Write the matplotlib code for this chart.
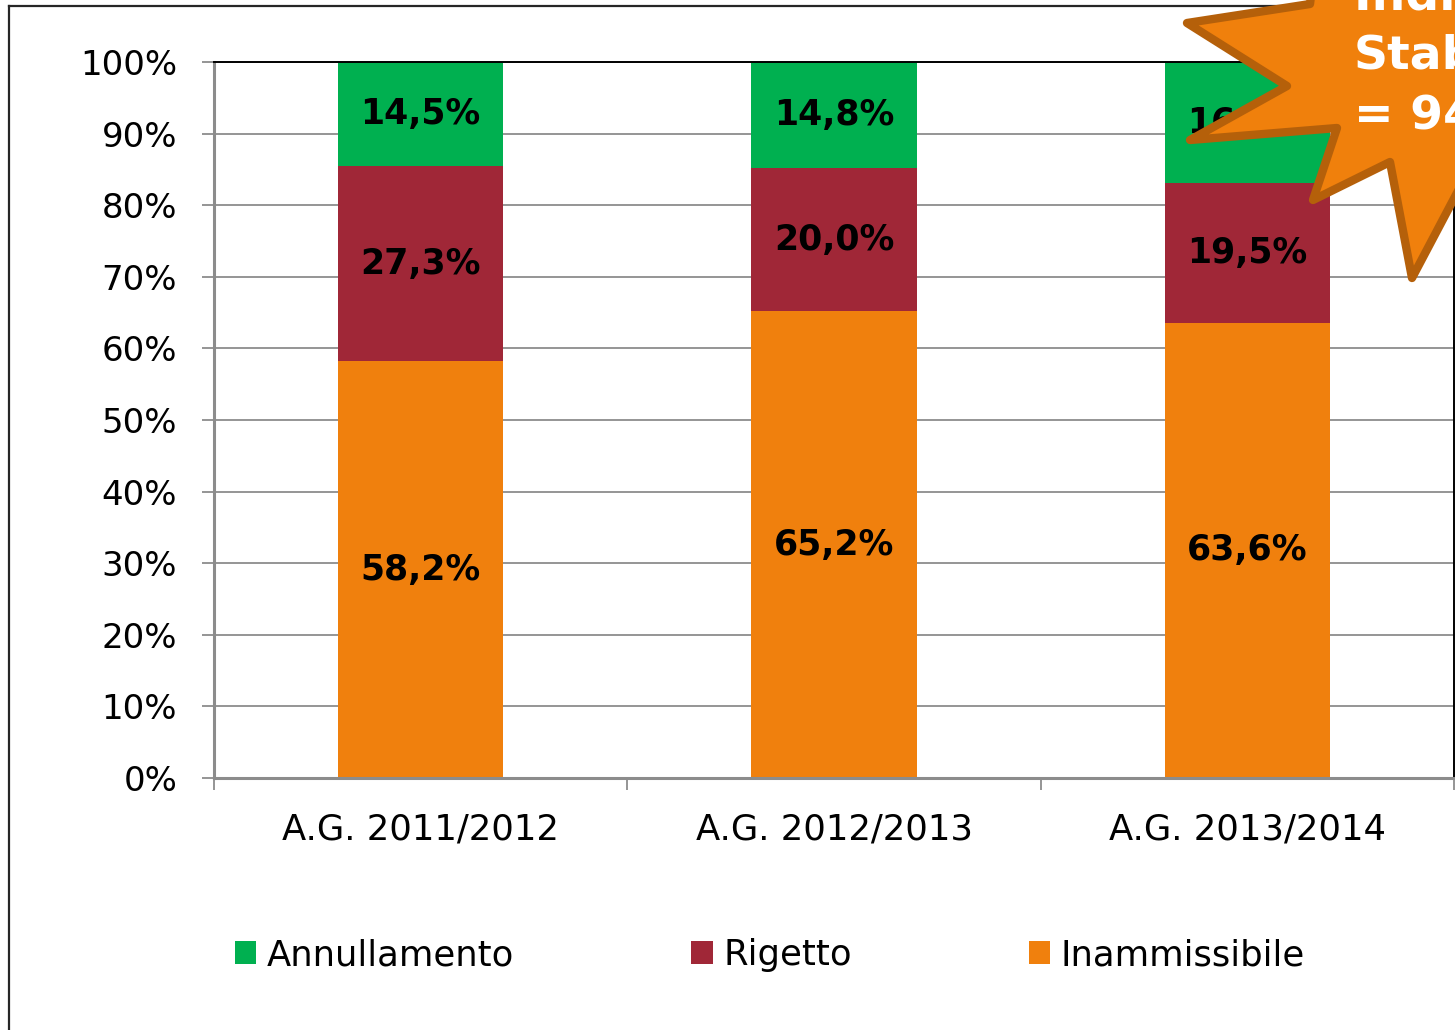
import matplotlib
matplotlib.use("Agg")
from matplotlib import pyplot as plt
from matplotlib.patches import Polygon
from matplotlib.lines import Line2D
import numpy as np

categories = ["A.G. 2011/2012", "A.G. 2012/2013", "A.G. 2013/2014"]
inammissibile = [58.2, 65.2, 63.6]
rigetto = [27.3, 20.0, 19.5]
annullamento = [14.5, 14.8, 16.9]
y_ticks = [0, 10, 20, 30, 40, 50, 60, 70, 80, 90, 100]

c_green = "#00B050"
c_red = "#A02737"
c_orange = "#F0800D"

W, H = 1455, 1030
fig = plt.figure(figsize=(W / 100, H / 100), dpi=100)
plt.rcParams['font.family'] = ['DejaVu Sans']

# plot area in pixel terms -> figure fractions
ax = fig.add_axes([214 / W, 1 - 778 / H, (1454 - 214) / W, (778 - 62) / H])

x = np.arange(len(categories))
series = [("Inammissibile", inammissibile, c_orange),
          ("Rigetto", rigetto, c_red),
          ("Annullamento", annullamento, c_green)]
bottom = np.zeros(len(categories))
handles = {}
for name, vals, col in series:
    vals = np.array(vals)
    b = ax.bar(x, vals, 0.4, bottom=bottom, color=col, edgecolor="none", zorder=2)
    handles[name] = b
    for xi, v, bt in zip(x, vals, bottom):
        ax.text(xi, bt + v / 2, f"{v:.1f}%".replace(".", ","), ha="center", va="center",
                fontsize=25, fontweight="bold", color="black", zorder=3)
    bottom += vals

ax.set_xlim(-0.5, 2.5)
ax.set_ylim(0, 100)
ax.set_yticks(y_ticks)
ax.set_yticklabels([f"{t}%" for t in y_ticks], fontsize=24.5)
ax.yaxis.grid(True, color="#8C8C8C", linewidth=1.3, zorder=0)
ax.set_axisbelow(True)
ax.tick_params(axis="y", length=8.5, width=1.3, color="#8C8C8C", pad=18)

ax.set_xticks(x)
ax.set_xticklabels(categories, fontsize=25.5)
ax.set_xticks([-0.5, 0.5, 1.5, 2.5], minor=True)
ax.tick_params(axis="x", which="major", length=0, pad=25)
ax.tick_params(axis="x", which="minor", length=8.5, width=1.3, color="#8C8C8C")

for s in ["left", "bottom"]:
    ax.spines[s].set_color("#8C8C8C")
    ax.spines[s].set_linewidth(2.2)
for s in ["top", "right"]:
    ax.spines[s].set_color("black")
    ax.spines[s].set_linewidth(1.4)

leg_order = ["Annullamento", "Rigetto", "Inammissibile"]
fig.legend([handles[n] for n in leg_order], leg_order, loc="center",
           bbox_to_anchor=(770 / W, 1 - 955 / H), ncol=3, frameon=False,
           fontsize=25.5, handlelength=0.6, handleheight=0.6, handletextpad=0.3,
           columnspacing=5.0)

# outer chart border (left and top edges visible)
fig.add_artist(Line2D([9 / W, 9 / W], [0, 1 - 6 / H], color="#262626", lw=1.6,
                      transform=fig.transFigure))
fig.add_artist(Line2D([9 / W, 1], [1 - 6 / H, 1 - 6 / H], color="#262626", lw=1.6,
                      transform=fig.transFigure))

# explosion shape in the top right corner
star_px = [(1318, -60), (1310, 4), (1187, 23), (1287, 86), (1190, 140), (1337, 128),
           (1313, 200), (1390, 162), (1412, 278), (1468, 172), (1620, 200),
           (1620, -120)]
star = Polygon([(px / W, 1 - py / H) for px, py in star_px], closed=True,
               facecolor="#F0800C", edgecolor="#B5600A", linewidth=6,
               joinstyle="round", transform=fig.transFigure, zorder=10)
fig.add_artist(star)
fig.text(1354 / W, 1 - 57 / H, "Indice di\nStabilità\n= 94%", ha="left", va="center",
         fontsize=34, fontweight="bold", color="white", linespacing=1.42, zorder=11)

fig.savefig("out.png", dpi=100)
